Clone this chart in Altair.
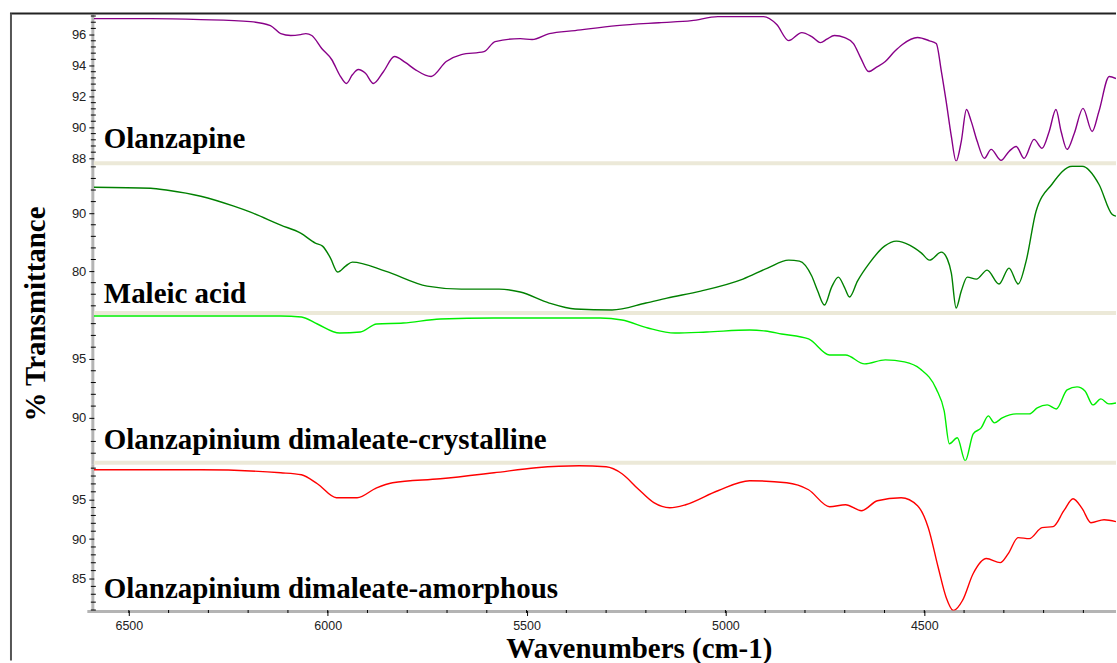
import math
import altair as alt
import pandas as pd

# ---- spectra: wavenumber (cm-1) and % transmittance ----
olz_wn = [6588, 6445, 6319, 6194, 6144, 6118, 6093, 6068, 6055, 6040,
          6015, 5990, 5968, 5953, 5938, 5923, 5905, 5885, 5860, 5832,
          5805, 5780, 5740, 5702, 5664, 5607, 5579, 5516, 5486, 5443,
          5378, 5273, 5167, 5085, 5019, 4904, 4871, 4841, 4808, 4783,
          4761, 4745, 4726, 4700, 4678, 4660, 4640, 4620, 4598, 4575,
          4555, 4517, 4487, 4470, 4457, 4445, 4432, 4420, 4407, 4394,
          4382, 4367, 4349, 4332, 4307, 4287, 4269, 4249, 4224, 4204,
          4186, 4169, 4156, 4141, 4123, 4101, 4078, 4061, 4035, 4018]
olz_t = [97.03, 97.03, 96.97, 96.84, 96.58, 96.06, 95.94, 96.00, 96.06, 95.94,
         95.10, 94.39, 93.30, 92.84, 93.40, 93.74, 93.50, 92.84, 93.60, 94.58,
         94.20, 93.74, 93.29, 94.26, 94.71, 94.90, 95.55, 95.74, 95.68, 96.06,
         96.26, 96.58, 96.77, 96.90, 97.16, 97.16, 96.65, 95.61, 96.13, 95.87,
         95.48, 95.70, 95.94, 95.80, 95.42, 94.50, 93.61, 93.90, 94.26, 94.90,
         95.36, 95.81, 95.60, 95.42, 93.61, 91.68, 89.42, 87.81, 89.10, 91.16,
         90.39, 89.10, 88.00, 88.58, 87.87, 88.45, 88.77, 88.00, 89.23, 88.65,
         89.74, 91.16, 89.74, 88.58, 89.61, 91.23, 89.74, 91.03, 93.29, 93.16]

mal_wn = [6588, 6445, 6402, 6319, 6236, 6194, 6118, 6068, 6031, 6013,
          5993, 5975, 5955, 5938, 5855, 5750, 5664, 5569, 5516, 5443,
          5378, 5285, 5200, 5147, 5062, 4956, 4894, 4841, 4814, 4783,
          4768, 4751, 4733, 4716, 4701, 4688, 4668, 4638, 4600, 4570,
          4537, 4507, 4487, 4457, 4442, 4432, 4420, 4407, 4392, 4369,
          4342, 4312, 4287, 4264, 4244, 4219, 4179, 4128, 4103, 4061,
          4028, 4018]
mal_t = [94.48, 94.31, 93.96, 92.93, 91.21, 90.17, 87.93, 86.55, 84.83, 84.31,
         82.24, 79.83, 80.86, 81.55, 80.00, 77.41, 76.89, 76.89, 76.38, 74.48,
         73.45, 73.27, 74.48, 75.34, 76.55, 78.62, 80.52, 81.89, 81.72, 79.14,
         76.55, 74.14, 77.24, 78.96, 77.24, 75.52, 78.27, 81.38, 84.31, 85.17,
         84.48, 83.10, 81.89, 83.27, 82.07, 79.65, 73.62, 76.55, 78.96, 78.62,
         80.17, 77.76, 80.52, 77.76, 81.72, 90.34, 95.00, 98.10, 98.10, 95.00,
         89.83, 89.48]

cry_wn = [6588, 6319, 6118, 6066, 6026, 5970, 5918, 5877, 5810, 5717,
          5582, 5448, 5315, 5260, 5195, 5127, 5047, 4939, 4899, 4859,
          4791, 4738, 4698, 4650, 4598, 4550, 4510, 4470, 4450, 4437,
          4417, 4397, 4377, 4357, 4339, 4324, 4304, 4269, 4236, 4216,
          4191, 4168, 4141, 4116, 4096, 4076, 4056, 4036, 4018]
cry_t = [98.65, 98.65, 98.65, 98.56, 97.97, 97.20, 97.29, 97.97, 98.05, 98.39,
         98.48, 98.48, 98.48, 98.31, 97.63, 97.20, 97.29, 97.46, 97.37, 97.12,
         96.70, 95.34, 95.34, 94.58, 94.92, 94.75, 94.15, 92.46, 90.59, 87.80,
         88.31, 86.36, 88.65, 89.15, 90.17, 89.58, 90.00, 90.34, 90.34, 90.85,
         91.10, 90.76, 92.37, 92.63, 92.29, 91.10, 91.61, 91.19, 91.27]

amo_wn = [6588, 6319, 6118, 6066, 6026, 5978, 5926, 5877, 5837, 5717,
          5582, 5476, 5368, 5300, 5260, 5220, 5180, 5140, 5100, 5019,
          4939, 4846, 4791, 4738, 4698, 4658, 4618, 4558, 4517, 4490,
          4465, 4445, 4427, 4404, 4377, 4344, 4309, 4289, 4264, 4236,
          4204, 4176, 4149, 4126, 4103, 4081, 4048, 4018]
amo_t = [98.79, 98.79, 98.41, 98.16, 97.02, 95.25, 95.25, 96.51, 97.15, 97.65,
         98.41, 99.05, 99.30, 99.17, 98.29, 96.39, 94.62, 93.98, 94.36, 96.13,
         97.40, 97.15, 96.26, 94.11, 94.36, 93.60, 94.87, 95.25, 94.24, 91.45,
         86.39, 82.59, 80.94, 82.21, 85.63, 87.53, 87.02, 88.16, 90.19, 90.06,
         91.45, 91.58, 93.60, 95.12, 93.86, 92.08, 92.46, 92.21]

names = ["Olanzapine", "Maleic acid",
         "Olanzapinium dimaleate-crystalline", "Olanzapinium dimaleate-amorphous"]
colors = ["#880088", "#008000", "#00ee00", "#ff0000"]
y_domains = [[87.81, 97.23], [73.10, 98.27], [86.36, 98.73], [80.94, 99.43]]
y_major = [[88, 90, 92, 94, 96], [80, 90], [90, 95], [85, 90, 95]]
y_minor_step = [0.4, 2, 1, 1]
x_major = [4500, 5000, 5500, 6000, 6500]
x_minor = list(range(4100, 6600, 100))
x_range = [4018, 6588]

W, H = 1024, 146
SERIF = "Liberation Serif"
SANS = "Liberation Sans"
AXIS_GREY = "#b4b4b4"
SEP = "#ece9d8"

one = pd.DataFrame({"k": [0]})
xs = alt.Scale(domain=x_range, reverse=True, nice=False, zero=False)


def minor_ticks(lo, hi, step, majors):
    n0 = math.ceil(lo / step - 1e-9)
    n1 = math.floor(hi / step + 1e-9)
    vals = [round(k * step, 3) for k in range(n0, n1 + 1)]
    return [v for v in vals if all(abs(v - m) > 1e-6 for m in majors)]


def panel(i, wn, t, label_y):
    last = i == 3
    ys = alt.Scale(domain=y_domains[i], nice=False, zero=False)
    yax = alt.Axis(values=y_major[i], title=None, domain=False, grid=False,
                   tickSize=5, tickColor="black", tickWidth=1,
                   labelFont=SANS, labelFontSize=13, labelColor="#222222",
                   labelPadding=3, zindex=1)
    if last:
        xax = alt.Axis(values=x_major, format="d", title="Wavenumbers (cm-1)",
                       domain=False, grid=False, tickSize=5, tickColor="black",
                       labelFont=SANS, labelFontSize=12.5, labelColor="#222222",
                       labelPadding=4, titleFont=SERIF, titleFontWeight="bold",
                       titleFontSize=29, titleColor="black", titleX=546,
                       titleY=47, titleAlign="center",
                       titleBaseline="alphabetic", zindex=1)
    else:
        xax = None
    X = alt.X("wn:Q", scale=xs, axis=xax)
    Y = alt.Y("t:Q", scale=ys, axis=yax)

    df = pd.DataFrame({"wn": wn, "t": t})
    layers = []

    # y axis line, continuous through the separators
    y_end = H + 1 if last else H + 4
    layers.append(alt.Chart(one).mark_rule(color=AXIS_GREY, strokeWidth=3).encode(
        x=alt.value(-1), y=alt.value(-1 if i == 0 else 0), y2=alt.value(y_end)))

    if last:
        layers.append(alt.Chart(one).mark_rule(color=AXIS_GREY, strokeWidth=3,
                                               strokeCap="square").encode(
            x=alt.value(-5), x2=alt.value(W - 1.5), y=alt.value(H + 1)))
        layers.append(alt.Chart(pd.DataFrame({"wn": x_minor})).mark_rule(
            color="black", strokeWidth=1).encode(
            x=X, y=alt.value(H - 0.5), y2=alt.value(H + 2.5)))
    else:
        layers.append(alt.Chart(one).mark_rule(color=SEP, strokeWidth=4,
                                               strokeCap="square").encode(
            x=alt.value(2), x2=alt.value(W - 2), y=alt.value(H + 2)))

    mins = minor_ticks(y_domains[i][0], y_domains[i][1], y_minor_step[i], y_major[i])
    layers.append(alt.Chart(pd.DataFrame({"t": mins})).mark_rule(
        color="black", strokeWidth=1).encode(y=Y, x=alt.value(-3), x2=alt.value(2)))

    layers.append(alt.Chart(df).mark_line(color=colors[i], strokeWidth=1.4,
                                          clip=True, interpolate="monotone").encode(x=X, y=Y))

    layers.append(alt.Chart(one).mark_text(
        text=names[i], align="left", baseline="alphabetic", font=SERIF,
        fontWeight="bold", fontSize=29, color="black").encode(
        x=alt.value(10), y=alt.value(label_y)))

    if i == 0:
        # window frame: top edge and left edge
        layers.append(alt.Chart(one).mark_rule(color="#222222", strokeWidth=2,
                                               strokeCap="square").encode(
            x=alt.value(-83), x2=alt.value(W - 1), y=alt.value(-2)))
        layers.append(alt.Chart(one).mark_rule(color="#555555", strokeWidth=2).encode(
            x=alt.value(-83), y=alt.value(-2), y2=alt.value(646)))
    if i == 1:
        layers.append(alt.Chart(one).mark_text(
            text="% Transmittance", angle=270, align="center", baseline="middle",
            font=SERIF, fontWeight="bold", fontSize=29, color="black").encode(
            x=alt.value(-58), y=alt.value(149)))

    return alt.layer(*layers).properties(width=W, height=H)


chart = alt.vconcat(
    panel(0, olz_wn, olz_t, 133),
    panel(1, mal_wn, mal_t, 138),
    panel(2, cry_wn, cry_t, 134),
    panel(3, amo_wn, amo_t, 133),
    spacing=4,
    bounds="flush",
).properties(
    padding={"left": 9, "top": 11, "right": 0, "bottom": 0},
    background="white",
).configure_view(strokeWidth=0)

chart.save("out.html", embed_options={"renderer": "svg", "actions": False})
